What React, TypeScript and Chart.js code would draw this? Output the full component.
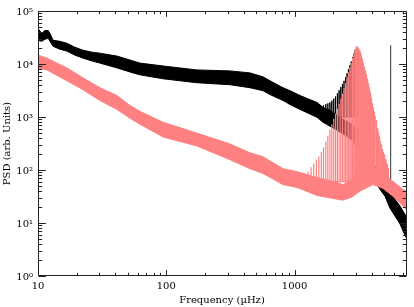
import React, { useEffect, useRef } from 'react';
import { Chart, registerables } from 'chart.js';
Chart.register(...registerables);

// ---- Data (frequency in µHz, PSD in arb. units) ----
// Black spectrum: noise band (upper / lower envelope)
const blackFreq = [10, 10.7, 11.3, 12.0, 12.4, 13.1, 14.8, 16.8, 19.4, 22.4, 26.4, 30.4, 41.3, 55, 62.4, 94.3, 173, 314, 449, 567, 643, 812, 921, 1102, 1495, 1665, 1888, 2141, 2472, 2802, 3235, 3734, 4234, 4630, 5066, 5541, 6061, 6630, 7385];
const blackHi = [46800, 37800, 42900, 42900, 37800, 28000, 26800, 24600, 20700, 18200, 16700, 16000, 14100, 11400, 10400, 9180, 7730, 7410, 6800, 5730, 4830, 3570, 3140, 2540, 1880, 1520, 1330, 1075, 867, 731, 519, 273, 116, 66, 53, 38, 28, 21, 13.5];
const blackLo = [28000, 26800, 29200, 30500, 26800, 21600, 19000, 17500, 14700, 12900, 11400, 10400, 8430, 6800, 6240, 5260, 4430, 4060, 3570, 3140, 2650, 2050, 1720, 1390, 986, 796, 671, 565, 456, 368, 240, 116, 61, 43, 32, 19, 13.5, 9.6, 5.3];
// Black spectrum: p-mode peaks
const blackModeFreq = [1615, 1681, 1750, 1816, 1885, 1951, 2020, 2087, 2156, 2223, 2292, 2359, 2428, 2494, 2563, 2629, 2698, 2764, 2833, 2899, 2968, 3034, 3103, 3169, 3238, 3305, 3373, 3440, 3508, 3575, 3643, 3710, 3778, 3845, 3913];
const blackModePeak = [1618, 1680, 1746, 1807, 1879, 2028, 2213, 2440, 2800, 3199, 3665, 4205, 4823, 5582, 6683, 8000, 9460, 11170, 13390, 15820, 18550, 20730, 20190, 17910, 15750, 13330, 11090, 9340, 8000, 6625, 5370, 4446, 3681, 3048, 2536];
const blackModeBase = 1000;
// Single narrow spike in the black spectrum
const blackLineFreq = 5610;
const blackLineRange = [40, 22600];

// Salmon spectrum: noise band
const salmonFreq = [10, 11.75, 16.8, 22.4, 30.4, 41.3, 52.1, 62.4, 94.3, 173, 314, 449, 567, 812, 1044, 1495, 1992, 2384, 2802, 3235, 4083, 4887, 5848, 6996, 7385];
const salmonHi = [14700, 12900, 8430, 5490, 3570, 2540, 1652, 1277, 796, 497, 310, 211, 178, 106, 93, 72, 61, 53, 66, 93, 111, 86, 61, 43, 40];
const salmonLo = [8430, 7730, 4830, 3280, 2050, 1390, 946, 731, 419, 285, 156, 106, 86, 53, 47, 33, 29, 27, 31, 40, 53, 45, 32, 21, 18];
// Salmon spectrum: p-mode peaks
const salmonModeFreq = [1210, 1275, 1345, 1410, 1480, 1545, 1615, 1681, 1750, 1816, 1885, 1951, 2020, 2087, 2156, 2223, 2292, 2359, 2428, 2494, 2563, 2629, 2698, 2764, 2833, 2899, 2968, 3034, 3103, 3169, 3238, 3305, 3373, 3440, 3508, 3575, 3643, 3710, 3778, 3845, 3913, 3980, 4048, 4115, 4183, 4250, 4318, 4385, 4453, 4520, 4588, 4655, 4723, 4790, 4858, 4925, 4993, 5060, 5128, 5195, 5263, 5330, 5398];
const salmonModePeak = [76, 93, 113, 133, 156, 180, 219, 269, 344, 445, 582, 731, 929, 1156, 1432, 1762, 2203, 2786, 3513, 4387, 5534, 6977, 8650, 10570, 13150, 16030, 19360, 21640, 21450, 19680, 17910, 15210, 12660, 10570, 8980, 7500, 6270, 5140, 4150, 3350, 2760, 2230, 1845, 1535, 1277, 1057, 879, 731, 616, 508, 428, 360, 306, 274, 245, 219, 199, 178, 161, 145, 130, 117, 109];
const salmonModeBase = 60;

// Axes
const xMin = 10;
const xMax = 7385;
const yMin = 1;
const yMax = 100000;
const xTickValues = [10, 100, 1000];
const yTickValues = [1, 10, 100, 1000, 10000, 100000];
const minorSteps = [2, 3, 4, 5, 6, 7, 8, 9];
const supDigits = ['\u2070', '\u00B9', '\u00B2', '\u00B3', '\u2074', '\u2075'];

const BLACK = '#000000';
const SALMON = '#FF8080';
const FONT = "'DejaVu Serif', serif";

const pts = (xs: number[], ys: number[]) => xs.map((x, i) => ({ x, y: ys[i] }));
const spikes = (xs: number[], peaks: number[], base: number) =>
  xs.flatMap((x, i) => [{ x, y: base }, { x, y: peaks[i] }, { x, y: base }]);

const framePlugin = {
  id: 'frameTicks',
  afterDatasetsDraw(chart: any) {
    const { ctx, chartArea: a, scales } = chart;
    const xs = scales.x;
    const ys = scales.y;
    const L = Math.round(a.left) + 0.5;
    const R = Math.round(a.right) + 0.5;
    const T = Math.round(a.top) + 0.5;
    const B = Math.round(a.bottom) - 0.5;
    ctx.save();
    ctx.strokeStyle = '#222';
    ctx.lineWidth = 1;
    ctx.beginPath();
    ctx.rect(L, T, R - L, B - T);
    const yT: { v: number; major: boolean }[] = [];
    yTickValues.forEach((m) => {
      yT.push({ v: m, major: true });
      if (m < yMax) minorSteps.forEach((s) => yT.push({ v: m * s, major: false }));
    });
    yT.forEach((t) => {
      const y = Math.round(ys.getPixelForValue(t.v)) + 0.5;
      const len = t.major ? 7.4 : 3.7;
      ctx.moveTo(L, y);
      ctx.lineTo(L + len, y);
      ctx.moveTo(R, y);
      ctx.lineTo(R - len, y);
    });
    const xT: { v: number; major: boolean }[] = [];
    xTickValues.forEach((m) => {
      xT.push({ v: m, major: true });
      minorSteps.forEach((s) => {
        if (m * s < xMax) xT.push({ v: m * s, major: false });
      });
    });
    xT.forEach((t) => {
      const x = Math.round(xs.getPixelForValue(t.v)) + 0.5;
      const len = t.major ? 5.4 : 2.7;
      ctx.moveTo(x, B);
      ctx.lineTo(x, B - len);
      ctx.moveTo(x, T);
      ctx.lineTo(x, T + len);
    });
    ctx.stroke();
    ctx.restore();
  },
};

export default function App() {
  const ref = useRef<HTMLCanvasElement | null>(null);
  useEffect(() => {
    if (!ref.current) return;
    const line = { pointRadius: 0, borderWidth: 1, tension: 0 };
    const chart = new Chart(ref.current, {
      type: 'line',
      data: {
        datasets: [
          { ...line, label: 'black hi', data: pts(blackFreq, blackHi), borderColor: BLACK, backgroundColor: BLACK, fill: 1, order: 5 },
          { ...line, label: 'black lo', data: pts(blackFreq, blackLo), borderColor: BLACK, fill: false, order: 5 },
          { ...line, label: 'black modes', data: spikes(blackModeFreq, blackModePeak, blackModeBase), borderColor: BLACK, fill: false, order: 4 },
          { ...line, label: 'black line', data: [{ x: blackLineFreq, y: blackLineRange[0] }, { x: blackLineFreq, y: blackLineRange[1] }], borderColor: '#333', fill: false, order: 4 },
          { ...line, label: 'salmon hi', data: pts(salmonFreq, salmonHi), borderColor: SALMON, backgroundColor: SALMON, fill: 5, order: 2 },
          { ...line, label: 'salmon lo', data: pts(salmonFreq, salmonLo), borderColor: SALMON, fill: false, order: 2 },
          { ...line, borderWidth: 1.2, label: 'salmon modes', data: spikes(salmonModeFreq, salmonModePeak, salmonModeBase), borderColor: SALMON, fill: false, order: 1 },
        ],
      },
      options: {
        animation: false,
        responsive: false,
        devicePixelRatio: 1,
        layout: { padding: { top: 7, right: 8, left: 0, bottom: 0 } },
        plugins: { legend: { display: false }, tooltip: { enabled: false } },
        scales: {
          x: {
            type: 'logarithmic',
            min: xMin,
            max: xMax,
            grid: { display: false, drawTicks: false },
            border: { display: false },
            afterBuildTicks: (s: any) => {
              s.ticks = xTickValues.map((v) => ({ value: v }));
            },
            afterFit: (s: any) => {
              s.height = 31;
            },
            ticks: {
              autoSkip: false,
              maxRotation: 0,
              padding: 4,
              color: '#000',
              font: { family: FONT, size: 10 },
              callback: (v: any) => String(v),
            },
            title: {
              display: true,
              text: 'Frequency (\u00B5Hz)',
              color: '#000',
              font: { family: FONT, size: 10 },
              padding: { top: 0, bottom: 1 },
            },
          },
          y: {
            type: 'logarithmic',
            min: yMin,
            max: yMax,
            grid: { display: false, drawTicks: false },
            border: { display: false },
            afterBuildTicks: (s: any) => {
              s.ticks = yTickValues.map((v) => ({ value: v }));
            },
            afterFit: (s: any) => {
              s.width = 38;
            },
            ticks: {
              autoSkip: false,
              padding: 5,
              labelOffset: 1,
              color: '#000',
              font: { family: FONT, size: 10 },
              callback: (v: any) => '10' + supDigits[Math.round(Math.log10(Number(v)))],
            },
            title: {
              display: true,
              text: 'PSD (arb. Units)',
              color: '#000',
              font: { family: FONT, size: 10 },
              padding: { top: 1, bottom: 0 },
            },
          },
        },
      },
      plugins: [framePlugin],
    } as any);
    return () => chart.destroy();
  }, []);
  return (
    <div style={{ position: 'absolute', left: 0, top: 0, width: 414, height: 307, background: '#fff' }}>
      <canvas ref={ref} width={414} height={307} style={{ display: 'block' }} />
    </div>
  );
}
